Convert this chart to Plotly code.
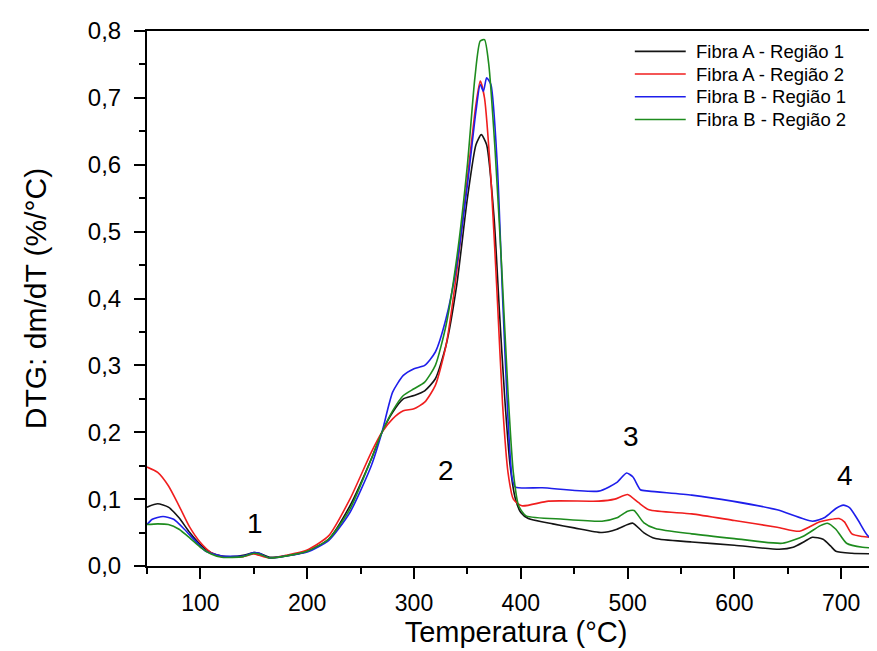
import plotly.graph_objects as go

# Fibra A - Região 1 (preto)
a1_t = [50, 60, 70, 80, 90, 100, 110, 120, 130, 140, 150, 155, 165, 180, 200, 220, 240, 260, 270, 280,
        290, 300, 310, 320, 330, 340, 350, 358, 363, 368, 375, 380, 385, 390, 395, 400, 407, 430, 450,
        476, 490, 500, 505, 515, 526, 560, 600, 642, 655, 666, 673, 683, 690, 695, 710, 741]
a1_v = [0.088, 0.093, 0.088, 0.072, 0.050, 0.032, 0.020, 0.015, 0.014, 0.016, 0.020, 0.019, 0.013, 0.015,
        0.022, 0.040, 0.090, 0.160, 0.200, 0.230, 0.250, 0.255, 0.262, 0.280, 0.330, 0.420, 0.550, 0.630,
        0.645, 0.630, 0.520, 0.380, 0.250, 0.150, 0.100, 0.080, 0.071, 0.063, 0.057, 0.050, 0.055, 0.062,
        0.064, 0.050, 0.041, 0.036, 0.031, 0.025, 0.028, 0.037, 0.043, 0.040, 0.030, 0.022, 0.019, 0.018]

# Fibra A - Região 2 (vermelho)
a2_t = [50, 60, 70, 80, 90, 100, 110, 120, 130, 140, 150, 155, 165, 180, 200, 220, 240, 260, 270, 280,
        290, 300, 310, 320, 330, 340, 350, 358, 362, 366, 372, 378, 383, 388, 393, 401, 426, 473, 488,
        500, 510, 520, 560, 600, 640, 661, 680, 698, 703, 710, 720, 742]
a2_v = [0.148, 0.140, 0.120, 0.090, 0.058, 0.035, 0.020, 0.014, 0.013, 0.014, 0.018, 0.016, 0.012, 0.016,
        0.024, 0.045, 0.100, 0.170, 0.200, 0.220, 0.232, 0.235, 0.245, 0.270, 0.330, 0.440, 0.580, 0.690,
        0.725, 0.700, 0.580, 0.400, 0.240, 0.140, 0.100, 0.090, 0.097, 0.097, 0.100, 0.107, 0.095, 0.084,
        0.078, 0.068, 0.058, 0.052, 0.066, 0.071, 0.066, 0.048, 0.044, 0.041]

# Fibra B - Região 1 (azul)
b1_t = [50, 55, 65, 75, 85, 95, 105, 120, 140, 150, 155, 165, 180, 200, 220, 240, 260, 270, 280, 290,
        300, 310, 320, 330, 340, 350, 358, 362, 365, 368, 372, 378, 383, 388, 392, 395, 420, 473, 490,
        499, 505, 512, 520, 560, 598, 640, 673, 685, 695, 702, 708, 716, 725, 741]
b1_v = [0.062, 0.070, 0.074, 0.070, 0.055, 0.038, 0.022, 0.015, 0.015, 0.020, 0.019, 0.012, 0.015, 0.021,
        0.038, 0.080, 0.150, 0.200, 0.260, 0.285, 0.295, 0.300, 0.320, 0.370, 0.450, 0.570, 0.680, 0.720,
        0.710, 0.730, 0.720, 0.600, 0.400, 0.220, 0.130, 0.118, 0.117, 0.112, 0.125, 0.139, 0.133, 0.114,
        0.112, 0.106, 0.097, 0.084, 0.067, 0.073, 0.086, 0.091, 0.087, 0.068, 0.045, 0.031]

# Fibra B - Região 2 (verde)
b2_t = [50, 60, 70, 80, 90, 100, 110, 120, 140, 150, 155, 165, 200, 220, 240, 260, 270, 280, 290, 300,
        310, 320, 330, 340, 350, 357, 362, 366, 370, 376, 382, 388, 393, 398, 405, 440, 476, 490, 500,
        506, 515, 526, 560, 600, 645, 665, 680, 687, 695, 705, 720, 741]
b2_v = [0.062, 0.063, 0.062, 0.055, 0.042, 0.028, 0.018, 0.013, 0.014, 0.019, 0.018, 0.012, 0.022, 0.040,
        0.085, 0.160, 0.200, 0.232, 0.255, 0.265, 0.275, 0.300, 0.360, 0.460, 0.600, 0.730, 0.785, 0.787,
        0.750, 0.620, 0.450, 0.260, 0.140, 0.090, 0.075, 0.070, 0.067, 0.072, 0.082, 0.083, 0.065, 0.056,
        0.048, 0.041, 0.034, 0.045, 0.060, 0.064, 0.055, 0.034, 0.028, 0.027]

series = [
    ('Fibra A - Região 1', a1_t, a1_v, 'rgb(20,20,20)'),
    ('Fibra A - Região 2', a2_t, a2_v, 'rgb(240,30,30)'),
    ('Fibra B - Região 1', b1_t, b1_v, 'rgb(30,30,235)'),
    ('Fibra B - Região 2', b2_t, b2_v, 'rgb(30,140,30)'),
]

peak_labels = ['1', '2', '3', '4']
peak_x = [151, 330, 503, 704]
peak_y = [0.064, 0.143, 0.194, 0.136]

font = 'Liberation Sans, Arial, sans-serif'

fig = go.Figure()
for name, t, v, color in series:
    fig.add_trace(go.Scatter(
        x=t, y=v, name=name, mode='lines', showlegend=False,
        line=dict(color=color, width=1.6, shape='spline', smoothing=0.6)
    ))

for lab, px, py in zip(peak_labels, peak_x, peak_y):
    fig.add_annotation(x=px, y=py, text=lab, showarrow=False,
                       font=dict(size=28, color='black', family=font))

# legend drawn by hand so the rows sit as close as in the original
leg_top = 0.962
leg_step = 0.0425
for i, (name, t, v, color) in enumerate(series):
    yy = leg_top - i * leg_step
    fig.add_shape(type='line', xref='paper', yref='paper',
                  x0=0.661, x1=0.730, y0=yy, y1=yy,
                  line=dict(color=color, width=1.6))
    fig.add_annotation(xref='paper', yref='paper', x=0.741, y=yy, text=name,
                       showarrow=False, xanchor='left', yanchor='middle',
                       font=dict(size=18.5, color='black', family=font))

fig.update_layout(
    width=877, height=651,
    margin=dict(l=139, r=0, t=23, b=93),
    plot_bgcolor='white', paper_bgcolor='white',
    separators=', ',
    font=dict(family=font, color='black'),
    showlegend=False,
    xaxis=dict(
        range=[50, 741], tickvals=[100, 200, 300, 400, 500, 600, 700],
        ticks='outside', ticklen=11, tickwidth=2, tickcolor='black',
        minor=dict(dtick=50, tick0=0, ticks='outside', ticklen=6, tickwidth=2, tickcolor='black'),
        showline=True, linecolor='black', linewidth=2, mirror=True,
        showgrid=False, zeroline=False,
        tickfont=dict(size=23), ticklabelstandoff=4,
        title=dict(text='Temperatura (°C)', font=dict(size=29), standoff=3),
    ),
    yaxis=dict(
        range=[0, 0.8], dtick=0.1, tick0=0, tickformat='.1f',
        ticks='outside', ticklen=11, tickwidth=2, tickcolor='black',
        minor=dict(dtick=0.05, tick0=0, ticks='outside', ticklen=6, tickwidth=2, tickcolor='black'),
        showline=True, linecolor='black', linewidth=2, mirror=False,
        showgrid=False, zeroline=False,
        tickfont=dict(size=24), ticklabelstandoff=8,
        title=dict(text='DTG: dm/dT (%/°C)', font=dict(size=30), standoff=32),
    ),
)

fig.write_html("out.html")
